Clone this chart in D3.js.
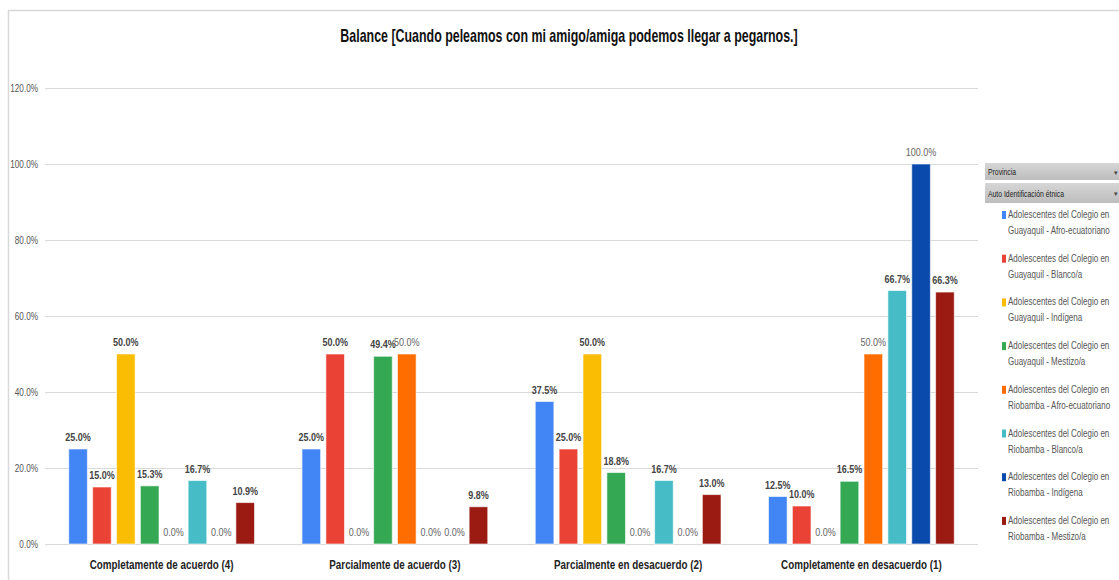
<!DOCTYPE html>
<html><head><meta charset="utf-8">
<script src="https://cdn.jsdelivr.net/npm/d3@7"></script>
<style>
body{margin:0;background:#fff;}
svg{display:block;}
</style></head>
<body><svg id="c" width="1119" height="580"></svg>
<script>
const title = "Balance [Cuando peleamos con mi amigo/amiga podemos llegar a pegarnos.]";
const categories = ["Completamente de acuerdo (4)", "Parcialmente de acuerdo (3)", "Parcialmente en desacuerdo (2)", "Completamente en desacuerdo (1)"];
const seriesNames = [
  ["Adolescentes del Colegio en", "Guayaquil - Afro-ecuatoriano"],
  ["Adolescentes del Colegio en", "Guayaquil - Blanco/a"],
  ["Adolescentes del Colegio en", "Guayaquil - Indígena"],
  ["Adolescentes del Colegio en", "Guayaquil - Mestizo/a"],
  ["Adolescentes del Colegio en", "Riobamba - Afro-ecuatoriano"],
  ["Adolescentes del Colegio en", "Riobamba - Blanco/a"],
  ["Adolescentes del Colegio en", "Riobamba - Indígena"],
  ["Adolescentes del Colegio en", "Riobamba - Mestizo/a"]
];
const colors = ["#4285f4", "#ea4335", "#fbbc04", "#34a853", "#ff6d01", "#46bdc6", "#0b4aad", "#9b1a11"];
const gyqAfro     = [25.0, 25.0, 37.5, 12.5];
const gyqBlanco   = [15.0, 50.0, 25.0, 10.0];
const gyqIndigena = [50.0, 0.0, 50.0, 0.0];
const gyqMestizo  = [15.3, 49.4, 18.8, 16.5];
const rioAfro     = [0.0, 50.0, 0.0, 50.0];
const rioBlanco   = [16.7, 0.0, 16.7, 66.7];
const rioIndigena = [0.0, 0.0, 0.0, 100.0];
const rioMestizo  = [10.9, 9.8, 13.0, 66.3];
const seriesValues = [gyqAfro, gyqBlanco, gyqIndigena, gyqMestizo, rioAfro, rioBlanco, rioIndigena, rioMestizo];
const yTicks = [0, 20, 40, 60, 80, 100, 120];
const legendHeaders = ["Provincia", "Auto Identificación étnica"];

const FONT = "'Liberation Sans', Arial, sans-serif";
const SX = 0.82;
const svg = d3.select("#c");

function ntext(parent, x, y, str, opts) {
  const t = parent.append("text")
    .attr("transform", `translate(${x},${y}) scale(${opts.sx || SX},1)`)
    .attr("font-family", FONT)
    .attr("font-size", opts.size)
    .attr("font-weight", opts.weight || "normal")
    .attr("fill", opts.fill || "#333")
    .attr("text-anchor", opts.anchor || "start")
    .text(str);
  return t;
}

// frame
svg.append("line").attr("x1",8.5).attr("x2",8.5).attr("y1",10).attr("y2",580).attr("stroke","#d9d9d9").attr("stroke-width",1.5);
svg.append("line").attr("x1",8).attr("x2",1119).attr("y1",10.5).attr("y2",10.5).attr("stroke","#d9d9d9").attr("stroke-width",1.5);

ntext(svg, 569, 42, title, {size:18, weight:"bold", fill:"#111", anchor:"middle", sx:0.69});

const plotL = 45, plotR = 978, plotT = 88, plotB = 544;
const y = d3.scaleLinear().domain([0,120]).range([plotB, plotT]);
const x0 = d3.scaleBand().domain(categories).range([plotL, plotR]).paddingInner(0).paddingOuter(0);
const x1 = d3.scaleBand().domain(d3.range(8)).range([18.5, x0.bandwidth()-18.5]).padding(0.22);

// grid
const yAxis = d3.axisLeft(y).tickValues(yTicks).tickSize(-(plotR-plotL)).tickFormat("");
const ga = svg.append("g").attr("transform",`translate(${plotL},0)`).call(yAxis);
ga.select(".domain").remove();
ga.selectAll(".tick line").attr("stroke","#d9d9d9").attr("stroke-width",1.2);
yTicks.forEach(t => ntext(svg, 38, y(t)+3.5, t.toFixed(1)+"%", {size:10, fill:"#555", anchor:"end"}));

// bars
const groups = svg.append("g").selectAll("g").data(categories).join("g")
  .attr("transform", d => `translate(${x0(d)},0)`);
const lightLabel = (si, v) => v === 0 || si === 4 || si === 6;
groups.each(function(cat, ci){
  const g = d3.select(this);
  seriesValues.forEach((vals, si) => {
    const v = vals[ci];
    if (v > 0) {
      g.append("rect").attr("x", x1(si)).attr("width", x1.bandwidth())
        .attr("y", y(v)).attr("height", plotB - y(v))
        .attr("fill", colors[si]).attr("stroke","#ffffff").attr("stroke-opacity",0.6).attr("stroke-width",1);
    }
    const light = lightLabel(si, v);
    ntext(g, x1(si)+x1.bandwidth()/2, y(v)-8, v.toFixed(1)+"%",
      {size:11, weight: light ? "normal" : "bold", fill: light ? "#666" : "#444", anchor:"middle"});
  });
});

// category labels
categories.forEach(c => ntext(svg, x0(c)+x0.bandwidth()/2, 569, c, {size:12, weight:"bold", fill:"#222", anchor:"middle"}));

// legend headers
const defs = svg.append("defs");
const grad = defs.append("linearGradient").attr("id","hg").attr("x1",0).attr("x2",0).attr("y1",0).attr("y2",1);
grad.append("stop").attr("offset","0%").attr("stop-color","#d6d6d6");
grad.append("stop").attr("offset","100%").attr("stop-color","#bdbdbd");
const hdrY = [163, 183], hdrH = [17, 20];
legendHeaders.forEach((h,i) => {
  svg.append("rect").attr("x",985).attr("y",hdrY[i]).attr("width",134).attr("height",hdrH[i]).attr("fill","url(#hg)");
  ntext(svg, 988, hdrY[i]+hdrH[i]/2+3.5, h, {size:9.5, fill:"#222", sx:0.72});
  svg.append("text").attr("x",1114).attr("y",hdrY[i]+hdrH[i]/2+3).attr("font-family",FONT).attr("font-size",7).attr("fill","#444").text("▾");
});

// legend items
const leg = svg.append("g").selectAll("g").data(seriesNames).join("g")
  .attr("transform",(d,i)=>`translate(1002,${218 + i*43.7})`);
leg.append("rect").attr("x",0).attr("y",-7).attr("width",4).attr("height",8).attr("fill",(d,i)=>colors[i]);
leg.each(function(d){
  const g = d3.select(this);
  ntext(g, 6, 0, d[0], {size:10, fill:"#555", sx:0.8});
  ntext(g, 6, 16, d[1], {size:10, fill:"#555", sx:0.8});
});
</script></body></html>
